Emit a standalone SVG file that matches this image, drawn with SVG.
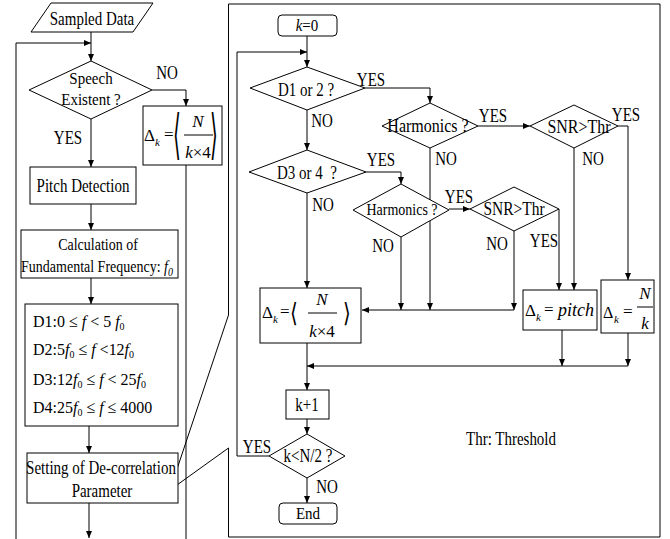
<svg xmlns="http://www.w3.org/2000/svg" width="670" height="539" viewBox="0 0 670 539">
<defs>
<style>
.t{font-family:"Liberation Serif","Times New Roman",serif;font-size:15px;fill:#000}
.m{text-anchor:middle}
.i{font-style:italic}
.box{fill:#fff;stroke:#000;stroke-width:1}
.ln{fill:none;stroke:#000;stroke-width:1}
.br{font-family:"DejaVu Sans",sans-serif;fill:#000}
</style>
<marker id="ah" markerWidth="7" markerHeight="6" refX="7" refY="3" orient="auto" markerUnits="userSpaceOnUse"><path d="M0,0 L7,3 L0,6 z" fill="#000"/></marker>
</defs>
<rect width="670" height="539" fill="#fff"/>

<path id="frame" class="ln" d="M228.5,4 H660 V537 H228.5 V448 L170,490 L228.5,315 Z"/>

<g id="connectors">
<path class="ln" d="M91,32 V61" marker-end="url(#ah)"/>
<path class="ln" d="M16,539 V43 H91" marker-end="url(#ah)"/>
<path class="ln" d="M152,90 H186 V106" marker-end="url(#ah)"/>
<path class="ln" d="M186,165 V539"/>
<path class="ln" d="M91,119 V167" marker-end="url(#ah)"/>
<path class="ln" d="M91,204 V230" marker-end="url(#ah)"/>
<path class="ln" d="M91,278 V304" marker-end="url(#ah)"/>
<path class="ln" d="M89,426 V453" marker-end="url(#ah)"/>
<path class="ln" d="M89,503 V538" marker-end="url(#ah)"/>

<path class="ln" d="M307,36 V67" marker-end="url(#ah)"/>
<path class="ln" d="M269,456 H237 V52 H307" marker-end="url(#ah)"/>
<path class="ln" d="M365,88 H430 V103" marker-end="url(#ah)"/>
<path class="ln" d="M307,110 V150" marker-end="url(#ah)"/>
<path class="ln" d="M478,126 H530" marker-end="url(#ah)"/>
<path class="ln" d="M618,126 H628 V280" marker-end="url(#ah)"/>
<path class="ln" d="M574,148 V290" marker-end="url(#ah)"/>
<path class="ln" d="M430,148 V310" marker-end="url(#ah)"/>
<path class="ln" d="M366,172 H401 V184" marker-end="url(#ah)"/>
<path class="ln" d="M307,193 V288" marker-end="url(#ah)"/>
<path class="ln" d="M449,209 H470" marker-end="url(#ah)"/>
<path class="ln" d="M401,237 V310" marker-end="url(#ah)"/>
<path class="ln" d="M559,209 V290" marker-end="url(#ah)"/>
<path class="ln" d="M514,231 V310" marker-end="url(#ah)"/>
<path class="ln" d="M514,310 H362" marker-end="url(#ah)"/>
<path class="ln" d="M562,330 V366" marker-end="url(#ah)"/>
<path class="ln" d="M628,333 V366" marker-end="url(#ah)"/>
<path class="ln" d="M628,366 H307" marker-end="url(#ah)"/>
<path class="ln" d="M307,343 V390" marker-end="url(#ah)"/>
<path class="ln" d="M307,419 V434" marker-end="url(#ah)"/>
<path class="ln" d="M307,478 V503" marker-end="url(#ah)"/>
</g>

<g id="labels" class="t m">
<text transform="translate(167,79) scale(1,1.2)">NO</text>
<text transform="translate(68,144) scale(1,1.2)">YES</text>
<text transform="translate(371,86) scale(1,1.2)">YES</text>
<text transform="translate(322,127) scale(1,1.2)">NO</text>
<text transform="translate(493,122) scale(1,1.2)">YES</text>
<text transform="translate(626,121) scale(1,1.2)">YES</text>
<text transform="translate(446,165) scale(1,1.2)">NO</text>
<text transform="translate(593,165) scale(1,1.2)">NO</text>
<text transform="translate(381,166) scale(1,1.2)">YES</text>
<text transform="translate(323,211) scale(1,1.2)">NO</text>
<text transform="translate(459,203) scale(1,1.2)">YES</text>
<text transform="translate(383,252) scale(1,1.2)">NO</text>
<text transform="translate(497,250) scale(1,1.2)">NO</text>
<text transform="translate(544,247) scale(1,1.2)">YES</text>
<text transform="translate(257,453) scale(1,1.2)">YES</text>
<text transform="translate(327,493) scale(1,1.2)">NO</text>
<text transform="translate(511,445) scale(1,1.2)">Thr: Threshold</text>
</g>

<g id="sampled">
<polygon class="box" points="51,3 153,3 133,32 31,32"/>
<text class="t m" transform="translate(92,25) scale(1,1.2)">Sampled Data</text>
</g>

<g id="speech">
<polygon class="box" points="29,90 91,61 152,90 91,119"/>
<text class="t m" transform="translate(91,84) scale(1,1.15)">Speech</text>
<text class="t m" transform="translate(91,105) scale(1,1.15)">Existent ?</text>
</g>

<g id="delta-left">
<rect class="box" x="143" y="106" width="79" height="59"/>
<text class="t" x="144" y="141" style="font-size:17px">Δ</text>
<text class="t i" x="155" y="146" style="font-size:11px">k</text>
<text class="t" x="164" y="140" style="font-size:17px">=</text>
<text class="br" transform="translate(173,153) scale(1,2.7)" style="font-size:20px">⟨</text>
<text class="t i m" x="198" y="127" style="font-size:17px">N</text>
<line class="ln" x1="184" y1="135" x2="213" y2="135"/>
<text class="t m" x="198" y="158" style="font-size:17px"><tspan class="i">k</tspan>×4</text>
<text class="br" transform="translate(210,153) scale(1,2.7)" style="font-size:20px">⟩</text>
</g>

<g id="pitch-detection">
<rect class="box" x="30" y="167" width="106" height="37"/>
<text class="t m" transform="translate(83,192) scale(1,1.2)">Pitch Detection</text>
</g>

<g id="calc">
<rect class="box" x="21" y="230" width="157" height="48"/>
<text class="t m" transform="translate(98,250) scale(1,1.2)" style="font-size:14px">Calculation of</text>
<text class="t m" transform="translate(97,272) scale(1,1.2)" style="font-size:14px">Fundamental Frequency: <tspan class="i">f</tspan><tspan class="i" dy="3" style="font-size:10px">0</tspan></text>
</g>

<g id="dranges" class="t" style="font-size:16px">
<rect class="box" x="25" y="304" width="153" height="122"/>
<text transform="translate(33,327) scale(1,1.1)">D1:0 ≤ <tspan class="i">f</tspan> &lt; 5 <tspan class="i">f</tspan><tspan dy="3" style="font-size:10px">0</tspan></text>
<text transform="translate(33,355) scale(1,1.1)">D2:5<tspan class="i">f</tspan><tspan dy="3" style="font-size:10px">0</tspan><tspan dy="-3"> ≤ </tspan><tspan class="i">f</tspan> &lt;12<tspan class="i">f</tspan><tspan dy="3" style="font-size:10px">0</tspan></text>
<text transform="translate(33,385) scale(1,1.1)">D3:12<tspan class="i">f</tspan><tspan dy="3" style="font-size:10px">0</tspan><tspan dy="-3"> ≤ </tspan><tspan class="i">f</tspan> &lt; 25<tspan class="i">f</tspan><tspan dy="3" style="font-size:10px">0</tspan></text>
<text transform="translate(33,413) scale(1,1.1)">D4:25<tspan class="i">f</tspan><tspan dy="3" style="font-size:10px">0</tspan><tspan dy="-3"> ≤ </tspan><tspan class="i">f</tspan> ≤ 4000</text>
</g>

<g id="setting">
<rect class="box" x="27" y="453" width="151" height="50"/>
<text class="t m" transform="translate(101,474) scale(1,1.2)">Setting of De-correlation</text>
<text class="t m" transform="translate(102,497) scale(1,1.2)">Parameter</text>
</g>

<g id="k0">
<rect class="box" x="278" y="15" width="59" height="21" rx="4"/>
<text class="t m" transform="translate(307,31) scale(1,1.15)"><tspan class="i">k</tspan>=0</text>
</g>

<g id="d12">
<polygon class="box" points="250,88 307,67 365,88 307,110"/>
<text class="t m" transform="translate(306,96) scale(1,1.2)">D1 or 2 ?</text>
</g>

<g id="harm1">
<polygon class="box" points="382,126 430,103 478,126 430,148"/>
<text class="t m" transform="translate(428,132) scale(1,1.15)" style="font-size:16px">Harmonics ?</text>
</g>

<g id="snr1">
<polygon class="box" points="530,126 574,105 618,126 574,148"/>
<text class="t m" transform="translate(579,133) scale(1,1.15)" style="font-size:16px">SNR&gt;Thr</text>
</g>

<g id="d34">
<polygon class="box" points="249,172 307,150 366,172 307,193"/>
<text class="t m" transform="translate(307,179) scale(1,1.2)">D3 or 4&#160; ?</text>
</g>

<g id="harm2">
<polygon class="box" points="353,210 401,184 449,210 401,237"/>
<text class="t m" transform="translate(402,215) scale(1,1.2)" style="font-size:14px">Harmonics ?</text>
</g>

<g id="snr2">
<polygon class="box" points="470,209 514,187 559,209 514,231"/>
<text class="t m" transform="translate(514,215) scale(1,1.15)" style="font-size:15.5px">SNR&gt;Thr</text>
</g>

<g id="delta-right">
<rect class="box" x="260" y="288" width="101" height="55"/>
<text class="t" x="262" y="318" style="font-size:17px">Δ</text>
<text class="t i" x="273" y="323" style="font-size:11px">k</text>
<text class="t" x="280" y="317" style="font-size:17px">=</text>
<text class="br" transform="translate(290,322) scale(1,1.3)" style="font-size:20px">⟨</text>
<text class="t i m" x="322" y="305" style="font-size:17px">N</text>
<line class="ln" x1="308" y1="313" x2="337" y2="313"/>
<text class="t m" x="322" y="337" style="font-size:17px"><tspan class="i">k</tspan>×4</text>
<text class="br" transform="translate(343,322) scale(1,1.3)" style="font-size:20px">⟩</text>
</g>

<g id="pitch-box">
<rect class="box" x="523" y="290" width="74" height="40"/>
<text class="t" x="525" y="316" style="font-size:17px">Δ</text>
<text class="t i" x="536" y="321" style="font-size:11px">k</text>
<text class="t" x="544" y="315" style="font-size:17px">=</text>
<text class="t i" x="594" y="316" style="font-size:18px;text-anchor:end">pitch</text>
</g>

<g id="nk-box">
<rect class="box" x="601" y="280" width="53" height="53"/>
<text class="t" x="603" y="318" style="font-size:16px">Δ</text>
<text class="t i" x="614" y="323" style="font-size:11px">k</text>
<text class="t" x="623" y="317" style="font-size:17px">=</text>
<text class="t i m" x="645" y="299" style="font-size:17px">N</text>
<line class="ln" x1="637" y1="307" x2="653" y2="307"/>
<text class="t i m" x="645" y="329" style="font-size:17px">k</text>
</g>

<g id="kplus">
<rect class="box" x="286" y="390" width="43" height="29"/>
<text class="t m" transform="translate(307,411) scale(1,1.2)">k+1</text>
</g>

<g id="kcheck">
<polygon class="box" points="269,456 307,434 345,456 307,478"/>
<text class="t m" transform="translate(308,462) scale(1,1.2)">k&lt;N/2 ?</text>
</g>

<g id="end">
<rect class="box" x="279" y="503" width="58" height="21" rx="4"/>
<text class="t m" transform="translate(308,519) scale(1,1.15)">End</text>
</g>
</svg>
